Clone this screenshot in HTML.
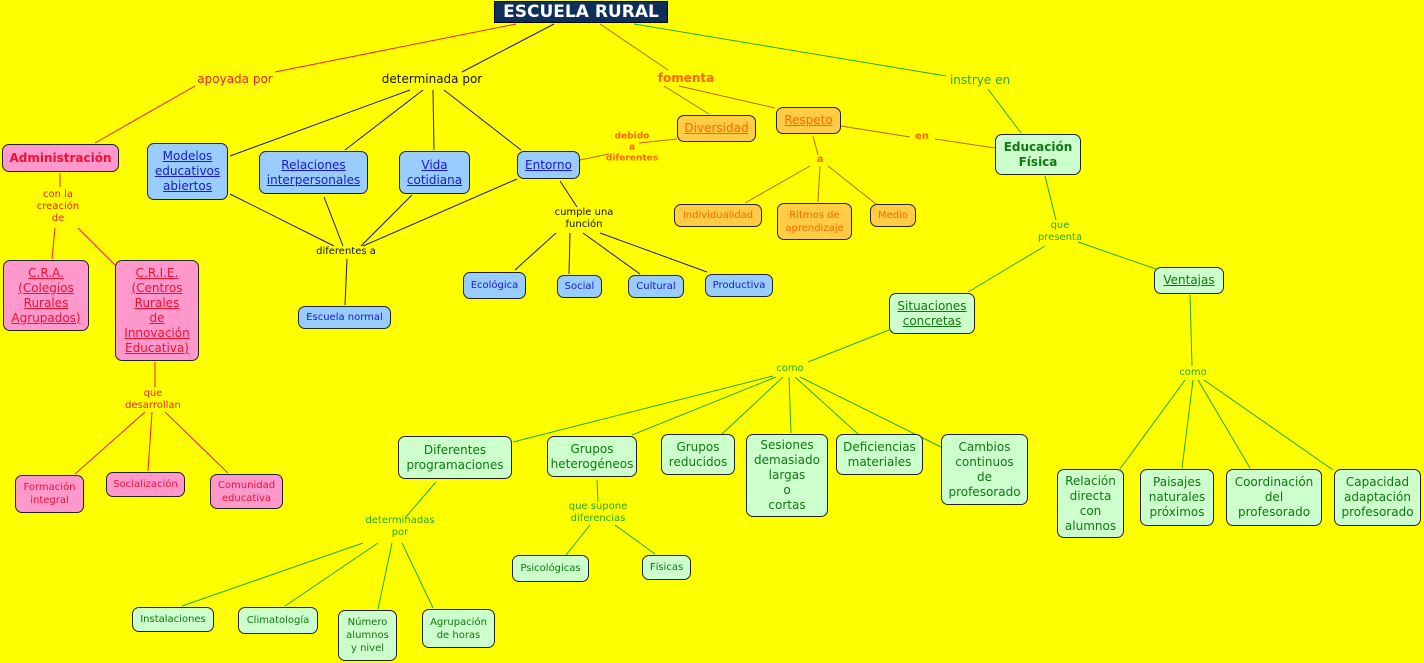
<!DOCTYPE html><html><head><meta charset="utf-8"><style>
body{margin:0;width:1424px;height:663px;background:#ffff00;position:relative;overflow:hidden;font-family:"DejaVu Sans","Liberation Sans",sans-serif;}
.b{position:absolute;box-sizing:border-box;border:1px solid #222;border-radius:7px;display:flex;align-items:center;justify-content:center;text-align:center;font-size:12px;line-height:15px;}
.p{background:#ff99cc;color:#ee1133}
.u{background:#99ccff;color:#1a1acc}
.o{background:#ffcc44;color:#ff6600}
.g{background:#ccffcc;color:#117711}
.s{font-size:10px;line-height:13px}
.ul{text-decoration:underline}
.l{position:absolute;font-size:11px;line-height:12px;text-align:center;white-space:nowrap;transform:translate(-50%,-50%);}
svg{position:absolute;left:0;top:0}
</style></head><body>
<svg width="1424" height="663">
<g stroke="#ee2222" stroke-width="1" fill="none">
<line x1="516" y1="24" x2="275" y2="72"/><line x1="195" y1="86" x2="95" y2="143"/>
<line x1="60" y1="173" x2="60" y2="187"/><line x1="55" y1="228" x2="52" y2="259"/><line x1="78" y1="228" x2="115" y2="265"/>
<line x1="155" y1="362" x2="155" y2="387"/><line x1="145" y1="412" x2="75" y2="474"/><line x1="152" y1="412" x2="148" y2="471"/><line x1="165" y1="412" x2="228" y2="473"/>
</g>
<g stroke="#1a1a66" stroke-width="1" fill="none">
<line x1="554" y1="24" x2="462" y2="72"/>
<line x1="410" y1="90" x2="230" y2="156"/><line x1="423" y1="90" x2="345" y2="150"/><line x1="433" y1="90" x2="434" y2="150"/><line x1="444" y1="90" x2="521" y2="150"/>
<line x1="230" y1="194" x2="334" y2="246"/><line x1="324" y1="197" x2="343" y2="246"/><line x1="412" y1="195" x2="361" y2="246"/><line x1="517" y1="179" x2="363" y2="246"/>
<line x1="347" y1="259" x2="345" y2="305"/>
<line x1="560" y1="181" x2="577" y2="207"/><line x1="556" y1="233" x2="515" y2="270"/><line x1="570" y1="233" x2="569" y2="274"/><line x1="583" y1="233" x2="640" y2="274"/><line x1="600" y1="233" x2="707" y2="272"/>
</g>
<g stroke="#bb6600" stroke-width="1" fill="none">
<line x1="600" y1="24" x2="668" y2="70"/><line x1="664" y1="86" x2="709" y2="114"/><line x1="679" y1="86" x2="775" y2="108"/>
<line x1="677" y1="139" x2="639" y2="143"/><line x1="609" y1="154" x2="580" y2="160"/>
<line x1="841" y1="126" x2="910" y2="137"/><line x1="935" y1="139" x2="995" y2="148"/>
<line x1="813" y1="136" x2="818" y2="155"/><line x1="810" y1="166" x2="745" y2="203"/><line x1="820" y1="166" x2="818" y2="202"/><line x1="828" y1="166" x2="876" y2="204"/>
</g>
<g stroke="#22aa22" stroke-width="1" fill="none">
<line x1="634" y1="24" x2="946" y2="76"/><line x1="988" y1="89" x2="1021" y2="133"/>
<line x1="1045" y1="176" x2="1056" y2="220"/><line x1="1045" y1="246" x2="968" y2="292"/><line x1="1078" y1="242" x2="1156" y2="269"/>
<line x1="889" y1="330" x2="808" y2="362"/><line x1="1190" y1="295" x2="1192" y2="366"/>
<line x1="773" y1="376" x2="513" y2="442"/><line x1="776" y1="377" x2="632" y2="435"/><line x1="783" y1="377" x2="722" y2="434"/><line x1="789" y1="377" x2="791" y2="433"/><line x1="795" y1="377" x2="858" y2="434"/><line x1="800" y1="377" x2="941" y2="447"/>
<line x1="1185" y1="380" x2="1120" y2="469"/><line x1="1193" y1="380" x2="1182" y2="468"/><line x1="1198" y1="380" x2="1250" y2="468"/><line x1="1204" y1="380" x2="1333" y2="470"/>
<line x1="436" y1="482" x2="405" y2="518"/><line x1="363" y1="543" x2="182" y2="606"/><line x1="378" y1="543" x2="285" y2="606"/><line x1="392" y1="543" x2="378" y2="609"/><line x1="402" y1="543" x2="433" y2="608"/>
<line x1="597" y1="480" x2="598" y2="502"/><line x1="590" y1="525" x2="566" y2="555"/><line x1="615" y1="525" x2="655" y2="554"/>
</g>
</svg>
<div class="b" style="left:494px;top:1px;width:174px;height:22px;background:#0d2f5a;color:#fff;font-weight:bold;font-size:17px;border-radius:0;border:1px solid #000">ESCUELA RURAL</div>

<div class="l" style="left:235px;top:79px;color:#ee2222;font-size:12px">apoyada por</div>
<div class="l" style="left:432px;top:79px;color:#111;font-size:12px">determinada por</div>
<div class="l" style="left:686px;top:78px;color:#ff6600;font-size:12px;font-weight:bold">fomenta</div>
<div class="l" style="left:980px;top:80px;color:#22aa22;font-size:12px">instrye en</div>
<div class="l" style="left:58px;top:207px;color:#ee2222;font-size:10px">con la<br>creación<br>de</div>
<div class="l" style="left:632px;top:148px;color:#ff6600;font-size:9px;font-weight:bold;line-height:11px">debido<br>a<br>diferentes</div>
<div class="l" style="left:820px;top:160px;color:#ff6600;font-size:10px;font-weight:bold">a</div>
<div class="l" style="left:922px;top:137px;color:#ff6600;font-size:10px;font-weight:bold">en</div>
<div class="l" style="left:584px;top:219px;color:#111;font-size:10px">cumple una<br>función</div>
<div class="l" style="left:346px;top:252px;color:#111;font-size:10px">diferentes a</div>
<div class="l" style="left:1060px;top:232px;color:#22aa22;font-size:10px">que<br>presenta</div>
<div class="l" style="left:790px;top:369px;color:#22aa22;font-size:10px">como</div>
<div class="l" style="left:1193px;top:373px;color:#22aa22;font-size:10px">como</div>
<div class="l" style="left:153px;top:400px;color:#ee2222;font-size:10px">que<br>desarrollan</div>
<div class="l" style="left:400px;top:527px;color:#22aa22;font-size:10px">determinadas<br>por</div>
<div class="l" style="left:598px;top:513px;color:#22aa22;font-size:10px">que supone<br>diferencias</div>

<div class="b p" style="left:2px;top:144px;width:117px;height:28px;font-weight:bold">Administración</div>
<div class="b p ul" style="left:3px;top:260px;width:86px;height:71px">C.R.A.<br>(Colegios<br>Rurales<br>Agrupados)</div>
<div class="b p ul" style="left:115px;top:260px;width:84px;height:101px">C.R.I.E.<br>(Centros<br>Rurales<br>de<br>Innovación<br>Educativa)</div>
<div class="b p s" style="left:15px;top:475px;width:69px;height:38px">Formación<br>integral</div>
<div class="b p s" style="left:106px;top:472px;width:79px;height:25px">Socialización</div>
<div class="b p s" style="left:210px;top:474px;width:73px;height:35px">Comunidad<br>educativa</div>

<div class="b u ul" style="left:147px;top:143px;width:81px;height:57px">Modelos<br>educativos<br>abiertos</div>
<div class="b u ul" style="left:259px;top:151px;width:109px;height:43px">Relaciones<br>interpersonales</div>
<div class="b u ul" style="left:399px;top:151px;width:71px;height:43px">Vida<br>cotidiana</div>
<div class="b u ul" style="left:517px;top:151px;width:63px;height:28px">Entorno</div>
<div class="b u s" style="left:298px;top:306px;width:93px;height:23px">Escuela normal</div>
<div class="b u s" style="left:463px;top:272px;width:63px;height:27px">Ecológica</div>
<div class="b u s" style="left:557px;top:275px;width:45px;height:23px">Social</div>
<div class="b u s" style="left:628px;top:275px;width:56px;height:23px">Cultural</div>
<div class="b u s" style="left:705px;top:274px;width:68px;height:23px">Productiva</div>

<div class="b o ul" style="left:677px;top:115px;width:79px;height:27px">Diversidad</div>
<div class="b o ul" style="left:776px;top:107px;width:65px;height:27px">Respeto</div>
<div class="b o s" style="left:674px;top:204px;width:88px;height:23px">Individualidad</div>
<div class="b o s" style="left:777px;top:203px;width:75px;height:37px">Ritmos de<br>aprendizaje</div>
<div class="b o s" style="left:870px;top:204px;width:46px;height:23px">Medio</div>

<div class="b g" style="left:995px;top:134px;width:86px;height:41px;font-weight:bold">Educación<br>Física</div>
<div class="b g ul" style="left:889px;top:293px;width:86px;height:41px">Situaciones<br>concretas</div>
<div class="b g ul" style="left:1154px;top:267px;width:70px;height:27px">Ventajas</div>
<div class="b g" style="left:398px;top:436px;width:114px;height:43px">Diferentes<br>programaciones</div>
<div class="b g" style="left:547px;top:436px;width:90px;height:41px">Grupos<br>heterogéneos</div>
<div class="b g" style="left:661px;top:434px;width:74px;height:41px">Grupos<br>reducidos</div>
<div class="b g" style="left:746px;top:434px;width:82px;height:83px">Sesiones<br>demasiado<br>largas<br>o<br>cortas</div>
<div class="b g" style="left:836px;top:434px;width:87px;height:41px">Deficiencias<br>materiales</div>
<div class="b g" style="left:941px;top:434px;width:87px;height:71px">Cambios<br>continuos<br>de<br>profesorado</div>
<div class="b g" style="left:1057px;top:469px;width:67px;height:69px">Relación<br>directa<br>con<br>alumnos</div>
<div class="b g" style="left:1140px;top:469px;width:74px;height:57px">Paisajes<br>naturales<br>próximos</div>
<div class="b g" style="left:1226px;top:469px;width:96px;height:57px">Coordinación<br>del<br>profesorado</div>
<div class="b g" style="left:1334px;top:469px;width:87px;height:57px">Capacidad<br>adaptación<br>profesorado</div>
<div class="b g s" style="left:512px;top:555px;width:77px;height:27px">Psicológicas</div>
<div class="b g s" style="left:642px;top:555px;width:49px;height:25px">Físicas</div>
<div class="b g s" style="left:132px;top:607px;width:82px;height:25px">Instalaciones</div>
<div class="b g s" style="left:238px;top:607px;width:80px;height:27px">Climatología</div>
<div class="b g s" style="left:338px;top:610px;width:59px;height:51px">Número<br>alumnos<br>y nivel</div>
<div class="b g s" style="left:422px;top:609px;width:73px;height:39px">Agrupación<br>de horas</div>
</body></html>
